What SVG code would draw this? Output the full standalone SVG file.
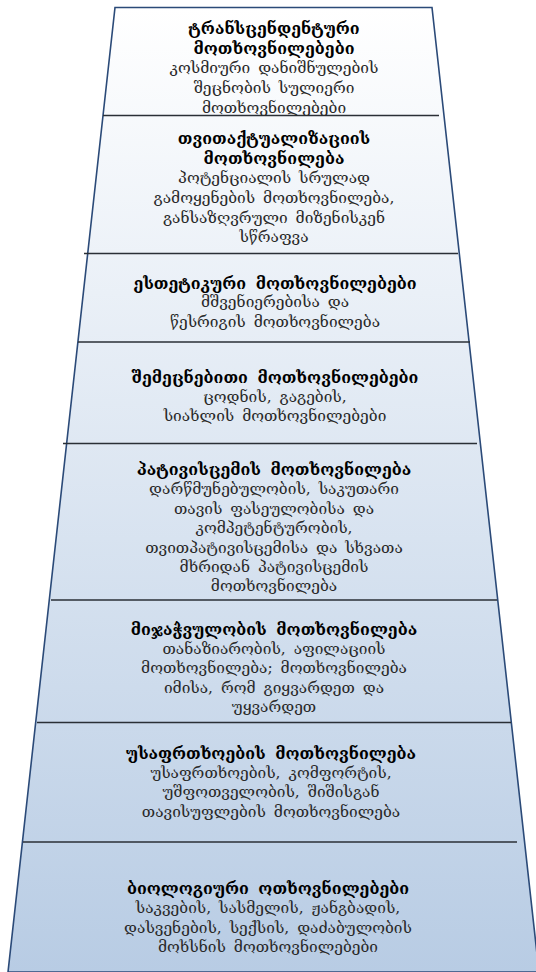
<svg xmlns="http://www.w3.org/2000/svg" width="536" height="972" viewBox="0 0 536 972">
  <defs>
    <linearGradient id="fillGrad" x1="0" y1="8" x2="0" y2="972" gradientUnits="userSpaceOnUse">
      <stop offset="0" stop-color="#ffffff"/>
      <stop offset="1" stop-color="#b8cce4"/>
    </linearGradient>
    <style>
      .shape { fill: url(#fillGrad); stroke: #2b4a78; stroke-width: 1.6; }
      .sep { stroke: #2a2f36; stroke-width: 1.6; }
      text { font-family: "DejaVu Serif", "DejaVu Sans", serif; text-anchor: middle; dominant-baseline: central; }
      .t { font-size: 16px; font-weight: bold; fill: #000; word-spacing: 4px; }
      .b { font-size: 15.5px; fill: #2a2a2a; word-spacing: 3px; }
    </style>
  </defs>

  <!-- pyramid body -->
  <path class="shape" d="M115,7.5 L432,7.5 L539,972 L8,972 Z"/>

  <!-- level separators -->
  <g id="separators">
    <line class="sep" x1="103" y1="115.5" x2="439" y2="115.5"/>
    <line class="sep" x1="84" y1="253.5" x2="458" y2="253.5"/>
    <line class="sep" x1="78" y1="342" x2="470" y2="342"/>
    <line class="sep" x1="63" y1="443.5" x2="477" y2="443.5"/>
    <line class="sep" x1="51" y1="600" x2="497" y2="600"/>
    <line class="sep" x1="37" y1="722.5" x2="511" y2="722.5"/>
    <line class="sep" x1="23" y1="842" x2="517" y2="842"/>
  </g>

  <g id="transcendent">
    <text class="t" x="274" y="28">ტრანსცენდენტური</text>
    <text class="t" x="274" y="48">მოთხოვნილებები</text>
    <text class="b" x="274" y="68">კოსმიური დანიშნულების</text>
    <text class="b" x="274" y="88">შეცნობის სულიერი</text>
    <text class="b" x="274" y="108">მოთხოვნილებები</text>
  </g>

  <g id="self-actualization">
    <text class="t" x="274" y="138">თვითაქტუალიზაციის</text>
    <text class="t" x="274" y="158">მოთხოვნილება</text>
    <text class="b" x="274" y="178">პოტენციალის სრულად</text>
    <text class="b" x="274" y="198">გამოყენების მოთხოვნილება,</text>
    <text class="b" x="274" y="218">განსაზღვრული მიზენისკენ</text>
    <text class="b" x="274" y="237">სწრაფვა</text>
  </g>

  <g id="aesthetic">
    <text class="t" x="275" y="283">ესთეტიკური მოთხოვნილებები</text>
    <text class="b" x="275" y="302">მშვენიერებისა და</text>
    <text class="b" x="275" y="322">წესრიგის მოთხოვნილება</text>
  </g>

  <g id="cognitive">
    <text class="t" x="275" y="377">შემეცნებითი მოთხოვნილებები</text>
    <text class="b" x="275" y="397">ცოდნის, გაგების,</text>
    <text class="b" x="275" y="416">სიახლის მოთხოვნილებები</text>
  </g>

  <g id="esteem">
    <text class="t" x="274" y="469">პატივისცემის მოთხოვნილება</text>
    <text class="b" x="274" y="489">დარწმუნებულობის, საკუთარი</text>
    <text class="b" x="274" y="509">თავის ფასეულობისა და</text>
    <text class="b" x="274" y="528">კომპეტენტურობის,</text>
    <text class="b" x="274" y="548">თვითპატივისცემისა და სხვათა</text>
    <text class="b" x="274" y="567">მხრიდან პატივისცემის</text>
    <text class="b" x="274" y="586">მოთხოვნილება</text>
  </g>

  <g id="belonging">
    <text class="t" x="274" y="629">მიჯაჭვულობის მოთხოვნილება</text>
    <text class="b" x="274" y="649">თანაზიარობის, აფილაციის</text>
    <text class="b" x="274" y="668">მოთხოვნილება; მოთხოვნილება</text>
    <text class="b" x="274" y="688">იმისა, რომ გიყვარდეთ და</text>
    <text class="b" x="274" y="707">უყვარდეთ</text>
  </g>

  <g id="safety">
    <text class="t" x="271" y="753">უსაფრთხოების მოთხოვნილება</text>
    <text class="b" x="271" y="773">უსაფრთხოების, კომფორტის,</text>
    <text class="b" x="271" y="792">უშფოთველობის, შიშისგან</text>
    <text class="b" x="271" y="812">თავისუფლების მოთხოვნილება</text>
  </g>

  <g id="biological">
    <text class="t" x="268" y="888">ბიოლოგიური ოთხოვნილებები</text>
    <text class="b" x="268" y="908">საკვების, სასმელის, ჟანგბადის,</text>
    <text class="b" x="268" y="928">დასვენების, სექსის, დაძაბულობის</text>
    <text class="b" x="268" y="947">მოხსნის მოთხოვნილებები</text>
  </g>
</svg>
